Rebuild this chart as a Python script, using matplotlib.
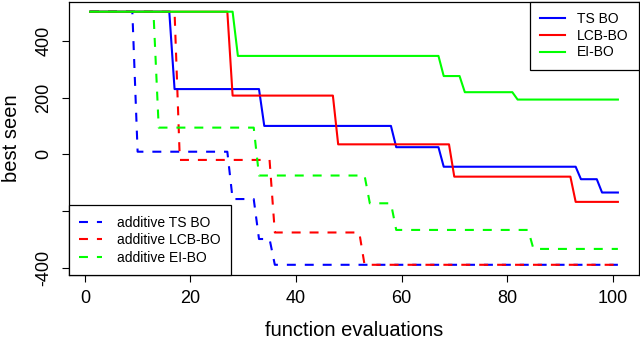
import matplotlib
matplotlib.use("Agg")
import matplotlib.pyplot as plt

plt.rcParams['font.family'] = ['Liberation Sans', 'DejaVu Sans']

# best seen value, as vertices of each run (evaluation, value)
ts_x = [1, 16, 17, 33, 34, 58, 59, 67, 68, 93, 94, 97, 98, 101]
ts_y = [503, 503, 230, 230, 100, 100, 25, 25, -44, -44, -88, -88, -135, -135]

lcb_x = [1, 27, 28, 47, 48, 69, 70, 92, 93, 101]
lcb_y = [503, 503, 207, 207, 35, 35, -79, -79, -168, -168]

ei_x = [1, 28, 29, 67, 68, 71, 72, 81, 82, 101]
ei_y = [503, 503, 347, 347, 276, 276, 219, 219, 193, 193]

add_ts_x = [1, 9, 10, 27, 28, 32, 33, 35, 36, 101]
add_ts_y = [503, 503, 9, 9, -158, -158, -299, -299, -390, -390]

add_lcb_x = [1, 17, 18, 35, 36, 52, 53, 101]
add_lcb_y = [503, 503, -20, -20, -276, -276, -390, -390]

add_ei_x = [1, 13, 14, 32, 33, 53, 54, 58, 59, 84, 85, 101]
add_ei_y = [503, 503, 94, 94, -75, -75, -173, -173, -267, -267, -334, -334]

x_ticks = [0, 20, 40, 60, 80, 100]
y_ticks = [-400, -200, 0, 200, 400]
y_tick_labels = ["-400", "", "0", "200", "400"]

fig = plt.figure(figsize=(6.4, 3.39), dpi=100)
ax = fig.add_axes([69/640, 1 - 275/339, 570/640, 273.5/339])

dash = (0, (4.3, 4.3))
lw = 1.5
d1, = ax.plot(add_ts_x, add_ts_y, color="#0000ff", lw=lw, linestyle=dash)
d2, = ax.plot(add_lcb_x, add_lcb_y, color="#ff0000", lw=lw, linestyle=dash)
d3, = ax.plot(add_ei_x, add_ei_y, color="#00ff00", lw=lw, linestyle=dash)
s1, = ax.plot(ts_x, ts_y, color="#0000ff", lw=lw)
s2, = ax.plot(lcb_x, lcb_y, color="#ff0000", lw=lw)
s3, = ax.plot(ei_x, ei_y, color="#00ff00", lw=lw)

ax.set_xlim(-3, 105)
ax.set_ylim(-426, 539)
ax.set_xticks(x_ticks)
ax.set_yticks(y_ticks)
ax.set_yticklabels(y_tick_labels, rotation=90, va="center")
ax.tick_params(direction="out", length=5, width=0.8, labelsize=13)
ax.tick_params(axis="x", pad=6)
ax.tick_params(axis="y", pad=7)
for sp in ax.spines.values():
    sp.set_linewidth(0.9)

ax.set_xlabel("function evaluations", fontsize=14.5, labelpad=10)
ax.set_ylabel("best seen", fontsize=14.5, labelpad=10)

leg1 = ax.legend([s1, s2, s3], ["TS BO", "LCB-BO", "EI-BO"], loc="upper right",
                 borderaxespad=0, fontsize=10, handlelength=1.8, handletextpad=0.85,
                 labelspacing=0.2, borderpad=0.75, fancybox=False, framealpha=1,
                 edgecolor="black")
leg1.get_frame().set_linewidth(0.9)
ax.add_artist(leg1)

leg2 = ax.legend([d1, d2, d3], ["additive TS BO", "additive LCB-BO", "additive EI-BO"],
                 loc="lower left", borderaxespad=0, fontsize=10, handlelength=1.6,
                 handletextpad=1.1, labelspacing=0.25, borderpad=0.75, fancybox=False,
                 framealpha=1, edgecolor="black")
leg2.get_frame().set_linewidth(0.9)

fig.savefig("out.png", dpi=100)
